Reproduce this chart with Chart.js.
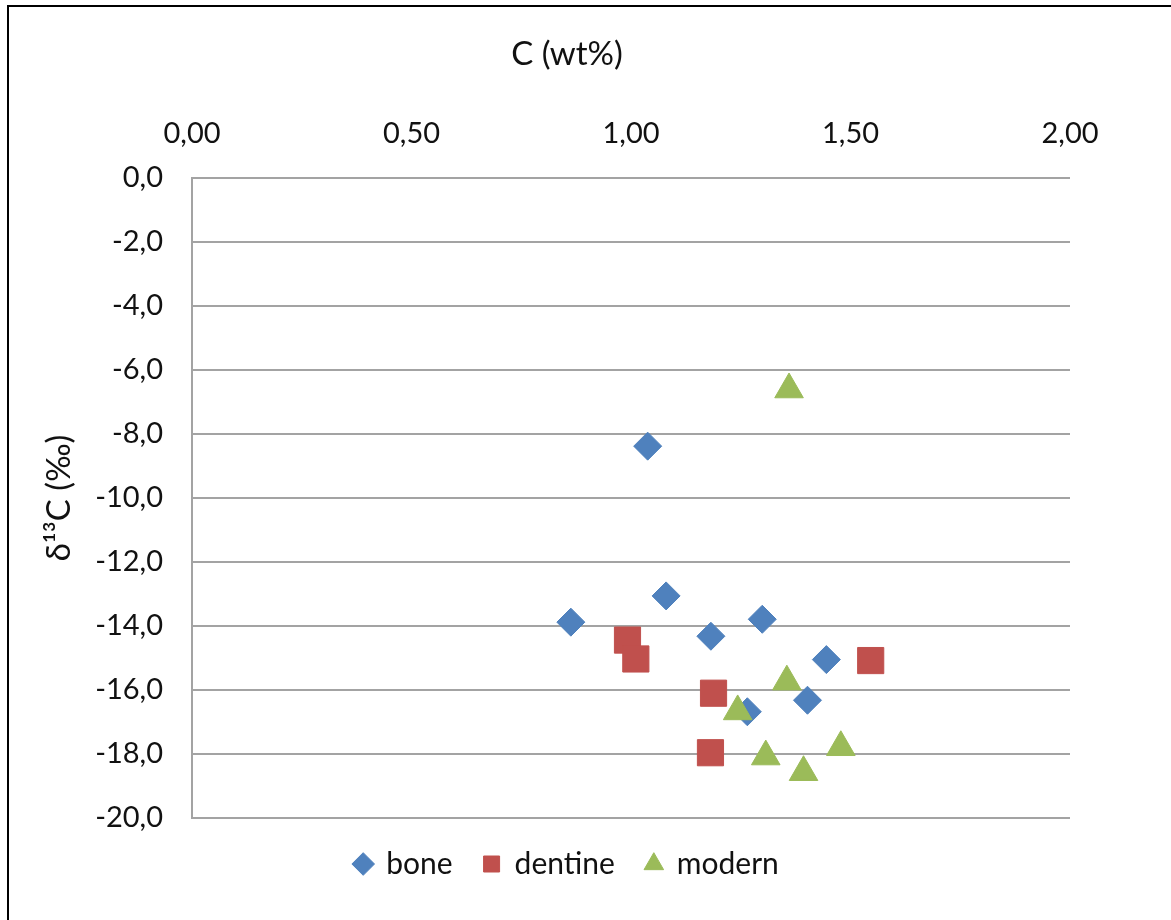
<!DOCTYPE html>
<html>
<head>
<meta charset="utf-8">
<script src="https://cdn.jsdelivr.net/npm/chart.js@4/dist/chart.umd.min.js"></script>
<style>
  html, body { margin: 0; padding: 0; background: #fff; }
  #wrap { width: 1171px; height: 920px; }
</style>
</head>
<body>
<div id="wrap"><canvas id="c" width="1171" height="920"></canvas></div>
<script>
// ---- data ----
const seriesNames = ['bone', 'dentine', 'modern'];

const boneX = [0.863, 1.038, 1.080, 1.182, 1.299, 1.445, 1.402, 1.265];
const boneY = [-13.88, -8.38, -13.06, -14.32, -13.79, -15.05, -16.32, -16.68];

const dentineX = [0.992, 1.011, 1.188, 1.181, 1.546];
const dentineY = [-14.44, -15.03, -16.10, -17.96, -15.08];

const modernX = [1.360, 1.355, 1.243, 1.307, 1.393, 1.478];
const modernY = [-6.61, -15.74, -16.67, -18.08, -18.57, -17.79];

const xTickValues = [0, 0.5, 1, 1.5, 2];
const xTickLabels = ['0,00', '0,50', '1,00', '1,50', '2,00'];
const yTickValues = [0, -2, -4, -6, -8, -10, -12, -14, -16, -18, -20];
const yTickLabels = ['0,0', '-2,0', '-4,0', '-6,0', '-8,0', '-10,0', '-12,0', '-14,0', '-16,0', '-18,0', '-20,0'];

const xTitle = 'C (wt%)';
const yTitle = 'δ¹³C (‰)';

// ---- build ----
const pts = (xs, ys) => xs.map((x, i) => ({x: x, y: ys[i]}));
const FONT = "Lato, 'Open Sans', 'DejaVu Sans', sans-serif";
const GRID = '#a3a3a3';

const frame = {
  id: 'frame',
  beforeDraw(chart) {
    const ctx = chart.ctx;
    ctx.save();
    ctx.fillStyle = '#fff';
    ctx.fillRect(0, 0, chart.width, chart.height);
    ctx.strokeStyle = '#000';
    ctx.lineWidth = 2;
    ctx.beginPath();
    ctx.moveTo(8, chart.height + 2);
    ctx.lineTo(8, 6);
    ctx.lineTo(chart.width + 2, 6);
    ctx.stroke();
    ctx.restore();
  }
};

new Chart(document.getElementById('c'), {
  type: 'scatter',
  data: {
    datasets: [
      {label: seriesNames[0], data: pts(boneX, boneY), pointStyle: 'rectRot', pointRadius: 14, pointHoverRadius: 14,
       backgroundColor: '#4f81bd', borderColor: '#4f81bd', borderWidth: 1, order: 3},
      {label: seriesNames[1], data: pts(dentineX, dentineY), pointStyle: 'rect', pointRadius: 18.5, pointHoverRadius: 18.5,
       backgroundColor: '#c0504d', borderColor: '#c0504d', borderWidth: 1, order: 2},
      {label: seriesNames[2], data: pts(modernX, modernY), pointStyle: 'triangle', pointRadius: 16.5, pointHoverRadius: 16.5,
       backgroundColor: '#9bbb59', borderColor: '#9bbb59', borderWidth: 1, order: 1}
    ]
  },
  options: {
    responsive: false,
    animation: false,
    layout: {padding: {left: 64, top: 8, right: 101, bottom: 31}},
    plugins: {
      tooltip: {enabled: false},
      title: {
        display: true,
        text: xTitle,
        color: '#111',
        font: {family: FONT, size: 33, weight: 'normal'},
        padding: {top: 27, bottom: 0}
      },
      legend: {
        position: 'bottom',
        labels: {
          usePointStyle: true,
          boxHeight: 16,
          boxWidth: 16,
          padding: 31,
          color: '#111',
          font: {family: FONT, size: 30},
          sort: (a, b) => a.datasetIndex - b.datasetIndex
        }
      }
    },
    scales: {
      x: {
        type: 'linear',
        position: 'top',
        min: 0, max: 2,
        afterBuildTicks: s => { s.ticks = xTickValues.map(v => ({value: v})); },
        afterFit: s => { s.height = 103.4; },
        ticks: {
          padding: 27,
          color: '#111',
          font: {family: FONT, size: 29},
          maxRotation: 0,
          callback: (v, i) => xTickLabels[i]
        },
        grid: {display: false, drawTicks: false},
        border: {display: false}
      },
      y: {
        type: 'linear',
        min: -20, max: 0,
        afterBuildTicks: s => { s.ticks = yTickValues.map(v => ({value: v})); },
        afterFit: s => { s.width = 128; },
        ticks: {
          padding: 29,
          color: '#111',
          font: {family: FONT, size: 29},
          callback: (v, i) => yTickLabels[i]
        },
        grid: {color: GRID, lineWidth: 2, drawTicks: false},
        border: {display: true, color: GRID, width: 2},
        title: {display: true, text: yTitle, color: '#111', font: {family: FONT, size: 33}, padding: {top: -24, bottom: 0}}
      }
    }
  },
  plugins: [frame]
});
</script>
</body>
</html>
